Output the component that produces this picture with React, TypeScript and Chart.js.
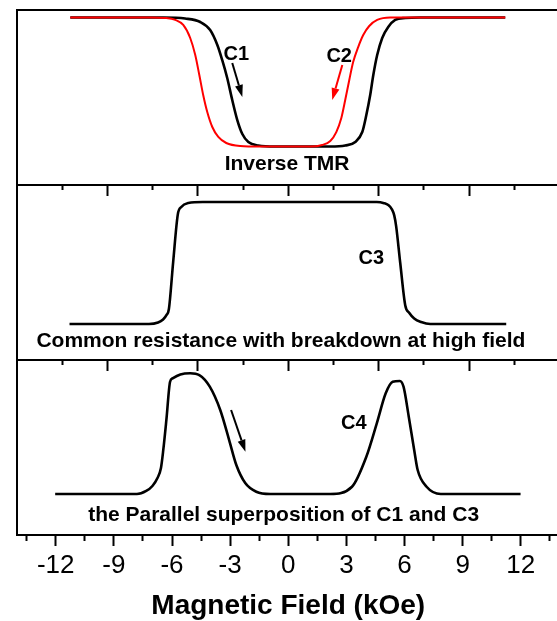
import React, { useEffect, useRef } from 'react';
import { Chart, registerables } from 'chart.js';

Chart.register(...registerables);

// ---- axis values ----
const FIELD_MIN = -14;
const FIELD_MAX = 14;
const bottomMajorTicks = [-12, -9, -6, -3, 0, 3, 6, 9, 12];
const bottomMinorTicks = [-13.5, -10.5, -7.5, -4.5, -1.5, 1.5, 4.5, 7.5, 10.5, 13.5];
const panelMajorTicks = [-28 / 3, -14 / 3, 0, 14 / 3, 28 / 3];
const panelMinorTicks = [-35 / 3, -7, -7 / 3, 7 / 3, 7, 35 / 3];
const xTitle = 'Magnetic Field (kOe)';

// ---- series (field in kOe, normalised signal) ----
const c1Field = [-11.25, -6.45, -5.32, -4.54, -4.03, -3.66, -3.41, -3.15, -2.89, -2.63, -2.37, -2.06, -1.55, -0.67, 2.17, 2.94, 3.46, 3.82, 4.03, 4.23, 4.39, 4.59, 4.85, 5.16, 5.52, 6.04, 6.81, 11.2];
const c1Signal = [1, 1, 0.992, 0.965, 0.903, 0.787, 0.671, 0.531, 0.36, 0.205, 0.097, 0.035, 0.008, 0, 0, 0.008, 0.035, 0.112, 0.244, 0.399, 0.554, 0.709, 0.841, 0.926, 0.981, 0.996, 1, 1];

const c2Field = [-11.25, -7.12, -6.35, -5.83, -5.42, -5.06, -4.8, -4.59, -4.39, -4.18, -3.92, -3.61, -3.2, -2.48, -1.45, 1.14, 1.75, 2.17, 2.48, 2.74, 2.94, 3.15, 3.35, 3.61, 3.87, 4.18, 4.59, 5.26, 11.2];
const c2Signal = [1, 1, 0.996, 0.981, 0.942, 0.841, 0.709, 0.554, 0.399, 0.267, 0.151, 0.074, 0.027, 0.004, 0, 0, 0.012, 0.043, 0.112, 0.221, 0.36, 0.516, 0.655, 0.771, 0.864, 0.934, 0.981, 1, 1];

const c3Field = [-11.29, -7.19, -6.72, -6.46, -6.28, -6.16, -5.94, -5.7, -5.52, -5.16, -4.41, 4.57, 4.95, 5.16, 5.35, 5.47, 5.57, 5.78, 6.04, 6.25, 6.5, 6.86, 7.33, 11.25];
const c3Signal = [0, 0, 0.012, 0.037, 0.074, 0.123, 0.508, 0.898, 0.959, 0.992, 1, 1, 0.99, 0.975, 0.94, 0.89, 0.8, 0.5, 0.152, 0.09, 0.045, 0.016, 0, 0];

const c4Field = [-12.03, -7.81, -7.33, -7.01, -6.75, -6.57, -6.45, -6.29, -6.1, -5.97, -5.57, -5.06, -4.59, -4.05, -3.51, -3.05, -2.68, -2.22, -1.65, -0.93, 2.17, 3.29, 4.03, 4.57, 5.03, 5.39, 5.76, 5.95, 6.22, 6.5, 6.68, 7.14, 7.87, 11.99];
const c4Signal = [0, 0, 0.025, 0.066, 0.132, 0.215, 0.364, 0.612, 0.928, 0.956, 0.988, 0.998, 0.983, 0.887, 0.694, 0.446, 0.24, 0.091, 0.019, 0, 0, 0.06, 0.308, 0.584, 0.832, 0.928, 0.934, 0.887, 0.639, 0.364, 0.198, 0.06, 0, 0];

// ---- annotation texts and their data positions ----
const panelCaptions = ['Inverse TMR', 'Common resistance with breakdown at high field', 'the Parallel superposition of C1 and C3'];
const captionPos = [
  { axis: 'yTop', x: -0.06, y: -0.136 },
  { axis: 'yMid', x: -0.38, y: -0.139 },
  { axis: 'yBot', x: -0.24, y: -0.174 },
];
const curveLabels = ['C1', 'C2', 'C3', 'C4'];
const curveLabelPos = [
  { axis: 'yTop', x: -2.68, y: 0.717, color: '#000000' },
  { axis: 'yTop', x: 2.63, y: 0.694, color: '#000000' },
  { axis: 'yMid', x: 4.29, y: 0.539, color: '#000000' },
  { axis: 'yBot', x: 3.38, y: 0.579, color: '#000000' },
];
const arrowPos = [
  { axis: 'yTop', x1: -2.89, y1: 0.647, x2: -2.37, y2: 0.384, color: '#000000' },
  { axis: 'yTop', x1: 2.79, y1: 0.632, x2: 2.27, y2: 0.36, color: '#ff0000' },
  { axis: 'yBot', x1: -2.95, y1: 0.694, x2: -2.21, y2: 0.349, color: '#000000' },
];

const FONT = "'Liberation Sans', Arial, Helvetica, sans-serif";

const toPoints = (xs: number[], ys: number[]) => xs.map((x, i) => ({ x, y: ys[i] }));
const setTicks = (vals: number[]) => (scale: any) => {
  scale.ticks = vals.map((v) => ({ value: v }));
};

const annotationPlugin = {
  id: 'panelAnnotations',
  afterDatasetsDraw(chart: any) {
    const ctx = chart.ctx as CanvasRenderingContext2D;
    const xs = chart.scales.x;
    ctx.save();
    for (const a of arrowPos) {
      const ys = chart.scales[a.axis];
      const x1 = xs.getPixelForValue(a.x1);
      const y1 = ys.getPixelForValue(a.y1);
      const x2 = xs.getPixelForValue(a.x2);
      const y2 = ys.getPixelForValue(a.y2);
      const ang = Math.atan2(y2 - y1, x2 - x1);
      const head = 12;
      const half = 4;
      const bx = x2 - head * Math.cos(ang);
      const by = y2 - head * Math.sin(ang);
      ctx.strokeStyle = a.color;
      ctx.fillStyle = a.color;
      ctx.lineWidth = 2;
      ctx.beginPath();
      ctx.moveTo(x1, y1);
      ctx.lineTo(bx, by);
      ctx.stroke();
      ctx.beginPath();
      ctx.moveTo(x2, y2);
      ctx.lineTo(bx + half * Math.sin(ang), by - half * Math.cos(ang));
      ctx.lineTo(bx - half * Math.sin(ang), by + half * Math.cos(ang));
      ctx.closePath();
      ctx.fill();
    }
    ctx.textAlign = 'center';
    ctx.textBaseline = 'middle';
    ctx.fillStyle = '#000';
    ctx.font = `bold 21px ${FONT}`;
    panelCaptions.forEach((t, i) => {
      const p = captionPos[i];
      ctx.fillText(t, xs.getPixelForValue(p.x), chart.scales[p.axis].getPixelForValue(p.y));
    });
    ctx.font = `bold 20px ${FONT}`;
    curveLabels.forEach((t, i) => {
      const p = curveLabelPos[i];
      ctx.fillStyle = p.color;
      ctx.fillText(t, xs.getPixelForValue(p.x), chart.scales[p.axis].getPixelForValue(p.y));
    });
    ctx.restore();
  },
};

const sepAxis = (axisId: string, value: number, ticks: number[] | null, len: number, border: boolean) => ({
  type: 'linear',
  axis: 'x',
  min: FIELD_MIN,
  max: FIELD_MAX,
  position: { [axisId]: value },
  afterBuildTicks: setTicks(ticks || []),
  ticks: { display: false },
  grid: {
    display: !!ticks,
    drawOnChartArea: false,
    drawTicks: !!ticks,
    tickLength: len,
    tickWidth: 2,
    tickColor: '#000',
  },
  border: { display: border, color: '#000', width: 2 },
});

const Y_TOP = { min: -0.2984, max: 1.058 };
const Y_MID = { min: -0.295, max: 1.139 };
const Y_BOT = { min: -0.3388, max: 1.1074 };

const panelAxis = (range: { min: number; max: number }) => ({
  type: 'linear',
  position: 'left',
  stack: 'panels',
  stackWeight: 1,
  min: range.min,
  max: range.max,
  ticks: { display: false },
  grid: { display: false, drawTicks: false },
  border: { display: true, color: '#000', width: 2 },
});

export default function App() {
  const ref = useRef<HTMLCanvasElement | null>(null);
  useEffect(() => {
    if (!ref.current) return;
    const lineBase = { pointRadius: 0, fill: false, cubicInterpolationMode: 'monotone' as const, xAxisID: 'x' };
    const chart = new Chart(ref.current, {
      type: 'line',
      data: {
        datasets: [
          { ...lineBase, label: 'C2', data: toPoints(c2Field, c2Signal), borderColor: '#ff0000', borderWidth: 2, yAxisID: 'yTop', order: 0 },
          { ...lineBase, label: 'C1', data: toPoints(c1Field, c1Signal), borderColor: '#000000', borderWidth: 2.6, yAxisID: 'yTop', order: 1 },
          { ...lineBase, label: 'C3', data: toPoints(c3Field, c3Signal), borderColor: '#000000', borderWidth: 2.6, yAxisID: 'yMid', order: 1 },
          { ...lineBase, label: 'C4', data: toPoints(c4Field, c4Signal), borderColor: '#000000', borderWidth: 2.6, yAxisID: 'yBot', order: 1 },
        ],
      } as any,
      options: {
        animation: false,
        responsive: false,
        devicePixelRatio: 1,
        layout: { padding: { left: 17, top: 10, right: 20.5, bottom: 0 } },
        plugins: { legend: { display: false }, tooltip: { enabled: false } },
        scales: {
          x: {
            type: 'linear',
            position: 'bottom',
            min: FIELD_MIN,
            max: FIELD_MAX,
            afterBuildTicks: setTicks(bottomMajorTicks),
            afterFit: (s: any) => {
              s.height = 86;
            },
            ticks: {
              color: '#000',
              padding: 4,
              maxRotation: 0,
              autoSkip: false,
              font: { family: FONT, size: 26 },
            },
            grid: { drawOnChartArea: false, drawTicks: true, tickLength: 11, tickWidth: 2, tickColor: '#000' },
            border: { display: true, color: '#000', width: 2 },
            title: {
              display: true,
              text: xTitle,
              color: '#000',
              font: { family: FONT, size: 28, weight: 'bold', lineHeight: 1 },
              padding: { top: 0, bottom: 1 },
            },
          },
          xBottomMinor: sepAxis('yBot', Y_BOT.min, bottomMinorTicks, 6, false),
          xTopLine: sepAxis('yTop', Y_TOP.max, null, 0, true),
          xSep1: sepAxis('yMid', Y_MID.max, panelMajorTicks, 10, true),
          xSep1Minor: sepAxis('yMid', Y_MID.max, panelMinorTicks, 5, false),
          xSep2: sepAxis('yBot', Y_BOT.max, panelMajorTicks, 10, true),
          xSep2Minor: sepAxis('yBot', Y_BOT.max, panelMinorTicks, 5, false),
          yBot: panelAxis(Y_BOT),
          yMid: panelAxis(Y_MID),
          yTop: panelAxis(Y_TOP),
        } as any,
      },
      plugins: [annotationPlugin],
    });
    return () => chart.destroy();
  }, []);
  return (
    <div style={{ position: 'fixed', left: 0, top: 0, width: 557, height: 621, overflow: 'hidden', background: '#fff' }}>
      <canvas ref={ref} width={580} height={621} style={{ display: 'block', width: 580, height: 621 }} />
    </div>
  );
}
